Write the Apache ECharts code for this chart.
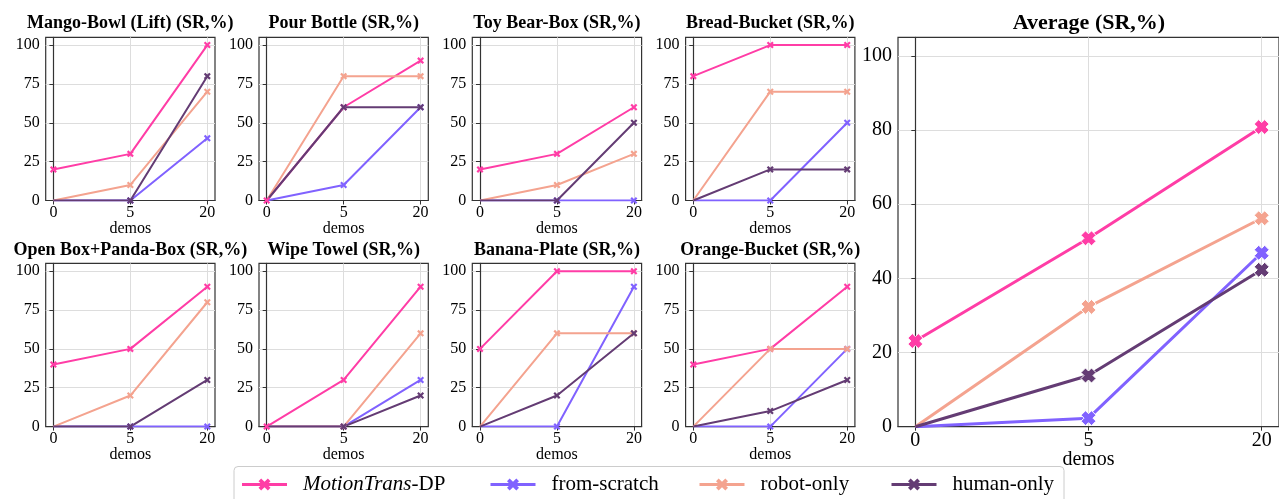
<!DOCTYPE html>
<html>
<head>
<meta charset="utf-8">
<script src="https://cdn.jsdelivr.net/npm/echarts@6/dist/echarts.min.js"></script>
<style>
html, body { margin: 0; padding: 0; background: #fff; }
#main { width: 1279px; height: 499px; }
</style>
</head>
<body>
<div id="main"></div>
<script>
const demos = ['0', '5', '20'];
const tasks = [
    'Mango-Bowl (Lift) (SR,%)', 'Pour Bottle (SR,%)', 'Toy Bear-Box (SR,%)', 'Bread-Bucket (SR,%)',
    'Open Box+Panda-Box (SR,%)', 'Wipe Towel (SR,%)', 'Banana-Plate (SR,%)', 'Orange-Bucket (SR,%)'
];
const motionTrans = [[20, 30, 100], [0, 60, 90], [20, 30, 60], [80, 100, 100], [40, 50, 90], [0, 30, 90], [50, 100, 100], [40, 50, 90]];
const fromScratch = [[0, 0, 40], [0, 10, 60], [0, 0, 0], [0, 0, 50], [0, 0, 0], [0, 0, 30], [0, 0, 90], [0, 0, 50]];
const robotOnly = [[0, 10, 70], [0, 80, 80], [0, 10, 30], [0, 70, 70], [0, 20, 80], [0, 0, 60], [0, 60, 60], [0, 50, 50]];
const humanOnly = [[0, 0, 80], [0, 60, 60], [0, 0, 50], [0, 20, 20], [0, 0, 30], [0, 0, 20], [0, 20, 60], [0, 10, 30]];
const avgTitle = 'Average (SR,%)';
const avgMotionTrans = [23.1, 50.8, 80.8];
const avgFromScratch = [0, 2.3, 46.9];
const avgRobotOnly = [0, 32.3, 56.2];
const avgHumanOnly = [0, 13.8, 42.3];
const smallTicks = [0, 25, 50, 75, 100];
const avgTicks = [0, 20, 40, 60, 80, 100];
const methods = ['MotionTrans-DP', 'from-scratch', 'robot-only', 'human-only'];

const colors = ['#ff3da6', '#8062ff', '#f4a38f', '#643c74'];
const FONT = '"Liberation Serif", "Times New Roman", serif';
const X_THIN = 'path://M2.2,0 L5,2.8 L7.8,0 L10,2.2 L7.2,5 L10,7.8 L7.8,10 L5,7.2 L2.2,10 L0,7.8 L2.8,5 L0,2.2 Z';
const X_BOLD = 'path://M3,0 L5,2 L7,0 L10,3 L8,5 L10,7 L7,10 L5,8 L3,10 L0,7 L2,5 L0,3 Z';

const chart = echarts.init(document.getElementById('main'), null, { renderer: 'canvas' });

const grids = [], xAxes = [], yAxes = [], series = [], graphics = [];

function addAxes(idx, ticks, fs, margin, nameGap) {
    xAxes.push({
        gridIndex: idx, type: 'value', min: -0.1, max: 2.1,
        name: 'demos', nameLocation: 'middle', nameGap: nameGap, nameMoveOverlap: false,
        nameTextStyle: { fontFamily: FONT, fontSize: fs, color: '#000' },
        axisLine: { show: true, lineStyle: { color: '#333', width: 1.2 } },
        axisTick: { show: true, length: 4, customValues: [0, 1, 2], lineStyle: { color: '#333' } },
        axisLabel: { customValues: [0, 1, 2], formatter: v => demos[Math.round(v)], fontFamily: FONT, fontSize: fs, color: '#000', margin: margin },
        splitLine: { show: true, lineStyle: { color: '#dddddd', width: 1 } }
    });
    yAxes.push({
        gridIndex: idx, type: 'value', min: 0, max: 105,
        axisLine: { show: true, lineStyle: { color: '#333', width: 1.2 } },
        axisTick: { show: true, length: 4, customValues: ticks, lineStyle: { color: '#333' } },
        axisLabel: { customValues: ticks, fontFamily: FONT, fontSize: fs, color: '#000', margin: 6 },
        splitLine: { show: true, lineStyle: { color: '#dddddd', width: 1 } }
    });
}

function addSeries(idx, lists, lw, sym, size, border) {
    lists.forEach((vals, m) => {
        series.push({
            type: 'line', name: methods[m], xAxisIndex: idx, yAxisIndex: idx,
            // baselines carry no marker at 0 demos
            data: vals.map((v, i) => (m > 0 && i === 0) ? { value: [i, v], symbol: 'none' } : [i, v]),
            symbol: sym, symbolSize: size,
            lineStyle: { color: colors[m], width: lw },
            itemStyle: { color: colors[m], borderColor: '#fff', borderWidth: border },
            emphasis: { disabled: true },
            animation: false
        });
    });
}

const cellLeft = 45.7, cellStep = 213.3, cellW = 169.3, cellH = 163.2;
const rowTop = [37.3, 263.4];
const titleY = [23, 250.7];

tasks.forEach((t, k) => {
    const r = Math.floor(k / 4), c = k % 4;
    const left = cellLeft + c * cellStep;
    grids.push({
        left: left, top: rowTop[r], width: cellW, height: cellH,
        show: true, borderColor: '#333', borderWidth: 1.2, backgroundColor: 'transparent'
    });
    addAxes(k, smallTicks, 16, 4, 20);
    addSeries(k, [motionTrans[k], fromScratch[k], robotOnly[k], humanOnly[k]], 2, X_THIN, 7, 0);
    graphics.push({
        type: 'text', x: left + cellW / 2, y: titleY[r],
        style: { text: t, align: 'center', verticalAlign: 'middle', font: 'bold 18px ' + FONT, fill: '#000' }
    });
});

// Average panel
grids.push({ left: 898, top: 37.3, width: 382, height: 389.4, show: true, borderColor: '#333', borderWidth: 1.2 });
addAxes(8, avgTicks, 20, 4, 23);
addSeries(8, [avgMotionTrans, avgFromScratch, avgRobotOnly, avgHumanOnly], 3, X_BOLD, 15, 1);
graphics.push({
    type: 'text', x: 1089, y: 23.5,
    style: { text: avgTitle, align: 'center', verticalAlign: 'middle', font: 'bold 22px ' + FONT, fill: '#000' }
});

// Legend frame
graphics.push({
    type: 'rect', z: 50,
    shape: { x: 234, y: 466.5, width: 830, height: 40, r: 4 },
    style: { fill: 'rgba(255,255,255,0.85)', stroke: '#cccccc', lineWidth: 1 }
});

const legendLeft = [240.5, 489, 698, 890];
const legends = methods.map((m, i) => ({
    show: true, z: 60, left: legendLeft[i], top: 474, padding: 0,
    itemWidth: 45, itemHeight: 15, selectedMode: false,
    data: [{ name: m, lineStyle: { width: 3 }, itemStyle: { borderWidth: 0 } }],
    formatter: n => n === 'MotionTrans-DP' ? '{i|MotionTrans}-DP' : n,
    textStyle: {
        fontFamily: FONT, fontSize: 21, color: '#000', padding: [0, 0, 0, 11],
        rich: { i: { fontFamily: FONT, fontSize: 21, fontStyle: 'italic', color: '#000' } }
    }
}));

chart.setOption({
    backgroundColor: '#fff',
    animation: false,
    grid: grids,
    xAxis: xAxes,
    yAxis: yAxes,
    legend: legends,
    series: series,
    graphic: graphics
});
</script>
</body>
</html>
